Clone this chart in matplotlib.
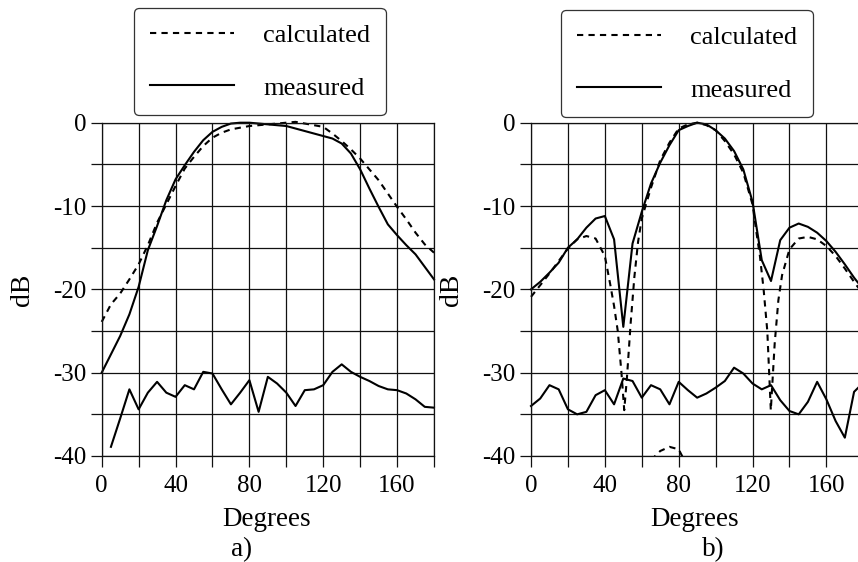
import numpy as np
from matplotlib import pyplot as plt
from matplotlib.lines import Line2D

plt.rcParams['font.family'] = ['Liberation Serif', 'DejaVu Serif']
plt.rcParams['axes.unicode_minus'] = False

# panel a) main lobe, 5 degree steps
deg_a = np.arange(0, 181, 5)
meas_a = [-30, -27.8, -25.6, -23, -19.7, -15.3, -12.4, -9.3, -6.8, -5.1, -3.5, -2.1, -1.1, -0.5,
          -0.1, 0, 0, -0.1, -0.2, -0.3, -0.4, -0.7, -1.0, -1.3, -1.6, -1.9, -2.5, -3.7, -5.6,
          -7.9, -10.1, -12.2, -13.5, -14.7, -15.8, -17.3, -18.8]
calc_a = [-23.9, -21.8, -20.5, -18.8, -17, -14.7, -12, -9.8, -7.6, -5.5, -4.1, -2.8, -1.8, -1.2,
          -0.8, -0.6, -0.4, -0.3, -0.2, -0.1, 0, 0.1, -0.1, -0.3, -0.5, -1.3, -2.2, -3.2, -4.3,
          -5.6, -6.9, -8.5, -10.1, -11.6, -13.2, -14.6, -15.6]
# panel a) cross-pol / noise floor
deg_na = np.arange(5, 181, 5)
noise_a = [-38.9, -35.5, -32.0, -34.4, -32.4, -31.1, -32.4, -32.9, -31.5, -32.0, -29.9, -30.1,
           -32.0, -33.8, -32.4, -30.9, -34.7, -30.5, -31.3, -32.4, -34.0, -32.1, -32.0, -31.5,
           -29.9, -29.0, -29.9, -30.5, -31.0, -31.6, -32.0, -32.1, -32.5, -33.2, -34.1, -34.2]

# panel b)
deg_b = np.arange(0, 181, 5)
meas_b = [-20, -19.1, -18, -16.8, -15, -14, -12.6, -11.5, -11.2, -14, -24.5, -14.5, -10.7, -7.3,
          -4.8, -2.7, -0.9, -0.4, 0, -0.2, -0.9, -1.9, -3.4, -5.6, -9.5, -16.5, -19, -14.1,
          -12.6, -12.1, -12.5, -13.2, -14.2, -15.5, -17, -18.6, -20]
deg_cb = [0, 5, 10, 15, 20, 25, 30, 35, 40, 43, 45, 47, 49, 50.5, 52, 54, 56, 58, 60, 65, 70, 75,
          80, 85, 90, 95, 100, 105, 110, 115, 120, 122, 124, 126, 128, 129.9, 132, 134, 136, 140,
          145, 150, 155, 160, 165, 170, 175, 180]
calc_b = [-20.9, -19.5, -18.1, -16.6, -15.1, -14.0, -13.6, -13.9, -16.0, -19.5, -22, -25, -30,
          -34.5, -30.5, -24, -18.5, -14.3, -11.5, -7.8, -4.5, -2.4, -0.7, -0.2, 0, -0.3, -0.9,
          -2.2, -3.8, -6.0, -9.8, -13, -16, -20, -25, -34.5, -26.5, -21.3, -18.3, -15.2, -13.9,
          -13.7, -14.0, -14.8, -16.0, -17.5, -19.1, -20.6]
noise_b = [-34, -33.1, -31.5, -32, -34.4, -35, -34.7, -32.7, -32.1, -33.8, -30.7, -31, -33, -31.5,
           -32, -33.8, -31.1, -32.1, -33, -32.5, -31.8, -31, -29.4, -30.1, -31.3, -32, -31.5,
           -33.3, -34.6, -35, -33.5, -31.1, -33.2, -35.8, -37.8, -32.3, -31.2]
# dashed arc just above the -40 floor
deg_arc = [60, 65, 70, 75, 80, 83, 88]
calc_arc = [-43, -40.5, -39.4, -38.9, -39.2, -40.5, -43]

fig = plt.figure(figsize=(8.58, 5.62), dpi=100)
W, H = 858, 562
dash = (3, 2.5)


def setup(ax):
    ax.set_xlim(0, 180)
    ax.set_ylim(-40, 0)
    ax.set_xticks(np.arange(0, 181, 20))
    ax.set_xticklabels([str(v) if v % 40 == 0 else '' for v in range(0, 181, 20)])
    ax.set_yticks(np.arange(-40, 1, 5))
    ax.set_yticklabels([str(v) if v % 10 == 0 else '' for v in range(-40, 1, 5)])
    ax.grid(True, color='#111111', linewidth=0.9)
    for s in ax.spines.values():
        s.set_linewidth(0.9)
        s.set_color('#111111')
    ax.tick_params(axis='x', direction='out', length=8, width=0.9, color='#111111',
                   labelsize=18, pad=6)
    ax.tick_params(axis='y', direction='out', length=8, width=0.9, color='#111111',
                   labelsize=18, pad=3)
    ax.set_ylabel('dB', fontsize=20, labelpad=13)


ax1 = fig.add_axes([101.7 / W, 1 - 456 / H, 332.3 / W, 333.3 / H])
setup(ax1)
ax1.plot(deg_a, calc_a, color='black', lw=1.5, dashes=dash, clip_on=False)
ax1.plot(deg_a, meas_a, color='black', lw=1.5, clip_on=False)
ax1.plot(deg_na, noise_a, color='black', lw=1.5, clip_on=False)

ax2 = fig.add_axes([531 / W, 1 - 456 / H, 332.3 / W, 333.3 / H])
setup(ax2)
ax2.plot(deg_cb, calc_b, color='black', lw=1.5, dashes=dash, clip_on=False)
ax2.plot(deg_b, meas_b, color='black', lw=1.5, clip_on=False)
ax2.plot(deg_b, noise_b, color='black', lw=1.5, clip_on=False)
ax2.plot(deg_arc, calc_arc, color='black', lw=1.5, dashes=dash)

handles = [Line2D([], [], color='black', lw=1.5, dashes=dash),
           Line2D([], [], color='black', lw=1.5)]
for x0, y0 in [(134, 8), (561, 10)]:
    leg = fig.legend(handles, ['calculated', 'measured'], loc='upper left',
                     bbox_to_anchor=(x0 / W, 1 - y0 / H), borderaxespad=0,
                     fontsize=19, handlelength=3.2, handletextpad=1.1,
                     labelspacing=1.1, borderpad=0.59, fancybox=True, framealpha=1)
    leg.get_frame().set_edgecolor('#333333')
    leg.get_frame().set_linewidth(0.9)

fig.text(267 / W, 1 - 520 / H, 'Degrees', fontsize=19.5, ha='center', va='center')
fig.text(695 / W, 1 - 520 / H, 'Degrees', fontsize=19.5, ha='center', va='center')
fig.text(241.7 / W, 1 - 550 / H, 'a)', fontsize=19.5, ha='center', va='center')
fig.text(713 / W, 1 - 550 / H, 'b)', fontsize=19.5, ha='center', va='center')

fig.savefig('out.png', dpi=100)
